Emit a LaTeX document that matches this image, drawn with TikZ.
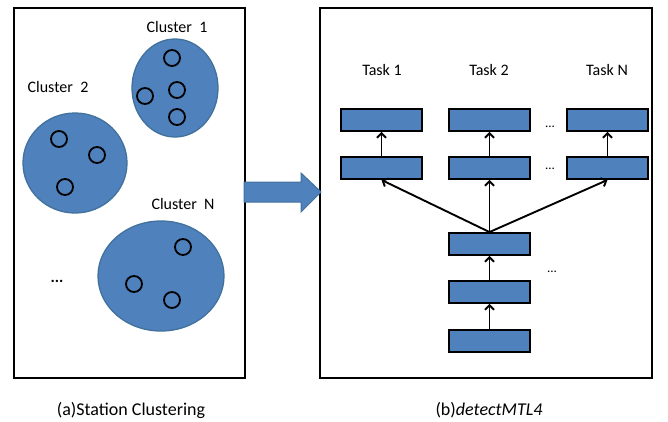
\documentclass[tikz,border=0pt]{standalone}
\usepackage{fontspec}
\setmainfont{Carlito}
\usetikzlibrary{shapes.geometric,arrows.meta}
\definecolor{fillblue}{HTML}{4F81BD}
\definecolor{edgeblue}{HTML}{41719C}
\begin{document}
\begin{tikzpicture}[x=1pt,y=-1pt,
  panel/.style={draw=black,line width=2pt,inner sep=0pt,minimum height=370pt},
  cluster/.style={ellipse,draw=edgeblue,line width=1.3pt,fill=fillblue,inner sep=0pt},
  member/.style={circle,draw=black,line width=1.8pt,inner sep=0pt,minimum size=16pt},
  layer/.style={draw=black,line width=1.9pt,fill=fillblue,inner sep=0pt,minimum width=81pt,minimum height=22pt},
  lbl/.style={inner sep=0pt,font=\fontsize{16}{19}\selectfont},
  captext/.style={inner sep=0pt,font=\fontsize{18}{22}\selectfont},
  dotlbl/.style={inner sep=0pt,font=\fontsize{13}{15}\selectfont},
  conn/.style={draw=black,line width=1.9pt,-{Straight Barb[length=4.5pt,width=9pt,line width=1.9pt]}}
]
\useasboundingbox (0,0) rectangle (668,421);
\fill[white] (0,0) rectangle (668,421);

% panels
\node[panel,minimum width=231pt] (pa) at (129.5,193) {};
\node[panel,minimum width=332pt] (pb) at (486,193) {};

% big arrow
\draw[edgeblue,line width=1pt,fill=fillblue]
  (244,182) -- (301,182) -- (301,173) -- (321,192) -- (301,212) -- (301,202) -- (244,202) -- cycle;

% clusters
\node[cluster,minimum width=86pt,minimum height=98pt] (c1) at (175,88) {};
\node[cluster,minimum width=104pt,minimum height=100pt] (c2) at (75,163) {};
\node[cluster,minimum width=126pt,minimum height=110pt] (cn) at (161,276) {};

\node[member] (m11) at (172,58) {};
\node[member] (m12) at (177,90) {};
\node[member] (m13) at (145,96) {};
\node[member] (m14) at (177,117) {};
\node[member] (m21) at (59,139) {};
\node[member] (m22) at (97,155) {};
\node[member] (m23) at (65,187) {};
\node[member] (mn1) at (183,247) {};
\node[member] (mn2) at (134,284) {};
\node[member] (mn3) at (172,300) {};

\node[lbl] (l1) at (177,27) {Cluster\ \ 1};
\node[lbl] (l2) at (58,87) {Cluster\ \ 2};
\node[lbl] (ln) at (183,204) {Cluster\ \ N};
\node[lbl,font=\fontsize{16}{19}\bfseries] (ldots) at (57,281) {...};

% tasks
\node[lbl] (t1) at (382,70) {Task 1};
\node[lbl] (t2) at (489,70) {Task 2};
\node[lbl] (tn) at (607,70) {Task N};

\node[layer] (a1) at (381.5,120) {};
\node[layer] (a2) at (489.5,120) {};
\node[layer] (an) at (607.5,120) {};
\node[layer] (b1) at (381.5,168) {};
\node[layer] (b2) at (489.5,168) {};
\node[layer] (bn) at (607.5,168) {};
\node[layer] (s1) at (489.5,244) {};
\node[layer] (s2) at (489.5,292) {};
\node[layer] (s3) at (489.5,341) {};

\node[dotlbl] (d1) at (550,127) {...};
\node[dotlbl] (d2) at (550,169) {...};
\node[dotlbl] (d3) at (552,272) {...};

\draw[conn] (b1) -- (a1);
\draw[conn] (b2) -- (a2);
\draw[conn] (bn) -- (an);
\draw[conn] (s3) -- (s2);
\draw[conn] (s2) -- (s1);
\draw[conn] (s1.north) -- (b1.south);
\draw[conn] (s1.north) -- (b2.south);
\draw[conn] (s1.north) -- (bn.south);

% captions
\node[captext] (capa) at (131,410) {(a)Station Clustering};
\node[captext] (capb) at (489,410) {(b)\textit{detectMTL4}};
\end{tikzpicture}
\end{document}
